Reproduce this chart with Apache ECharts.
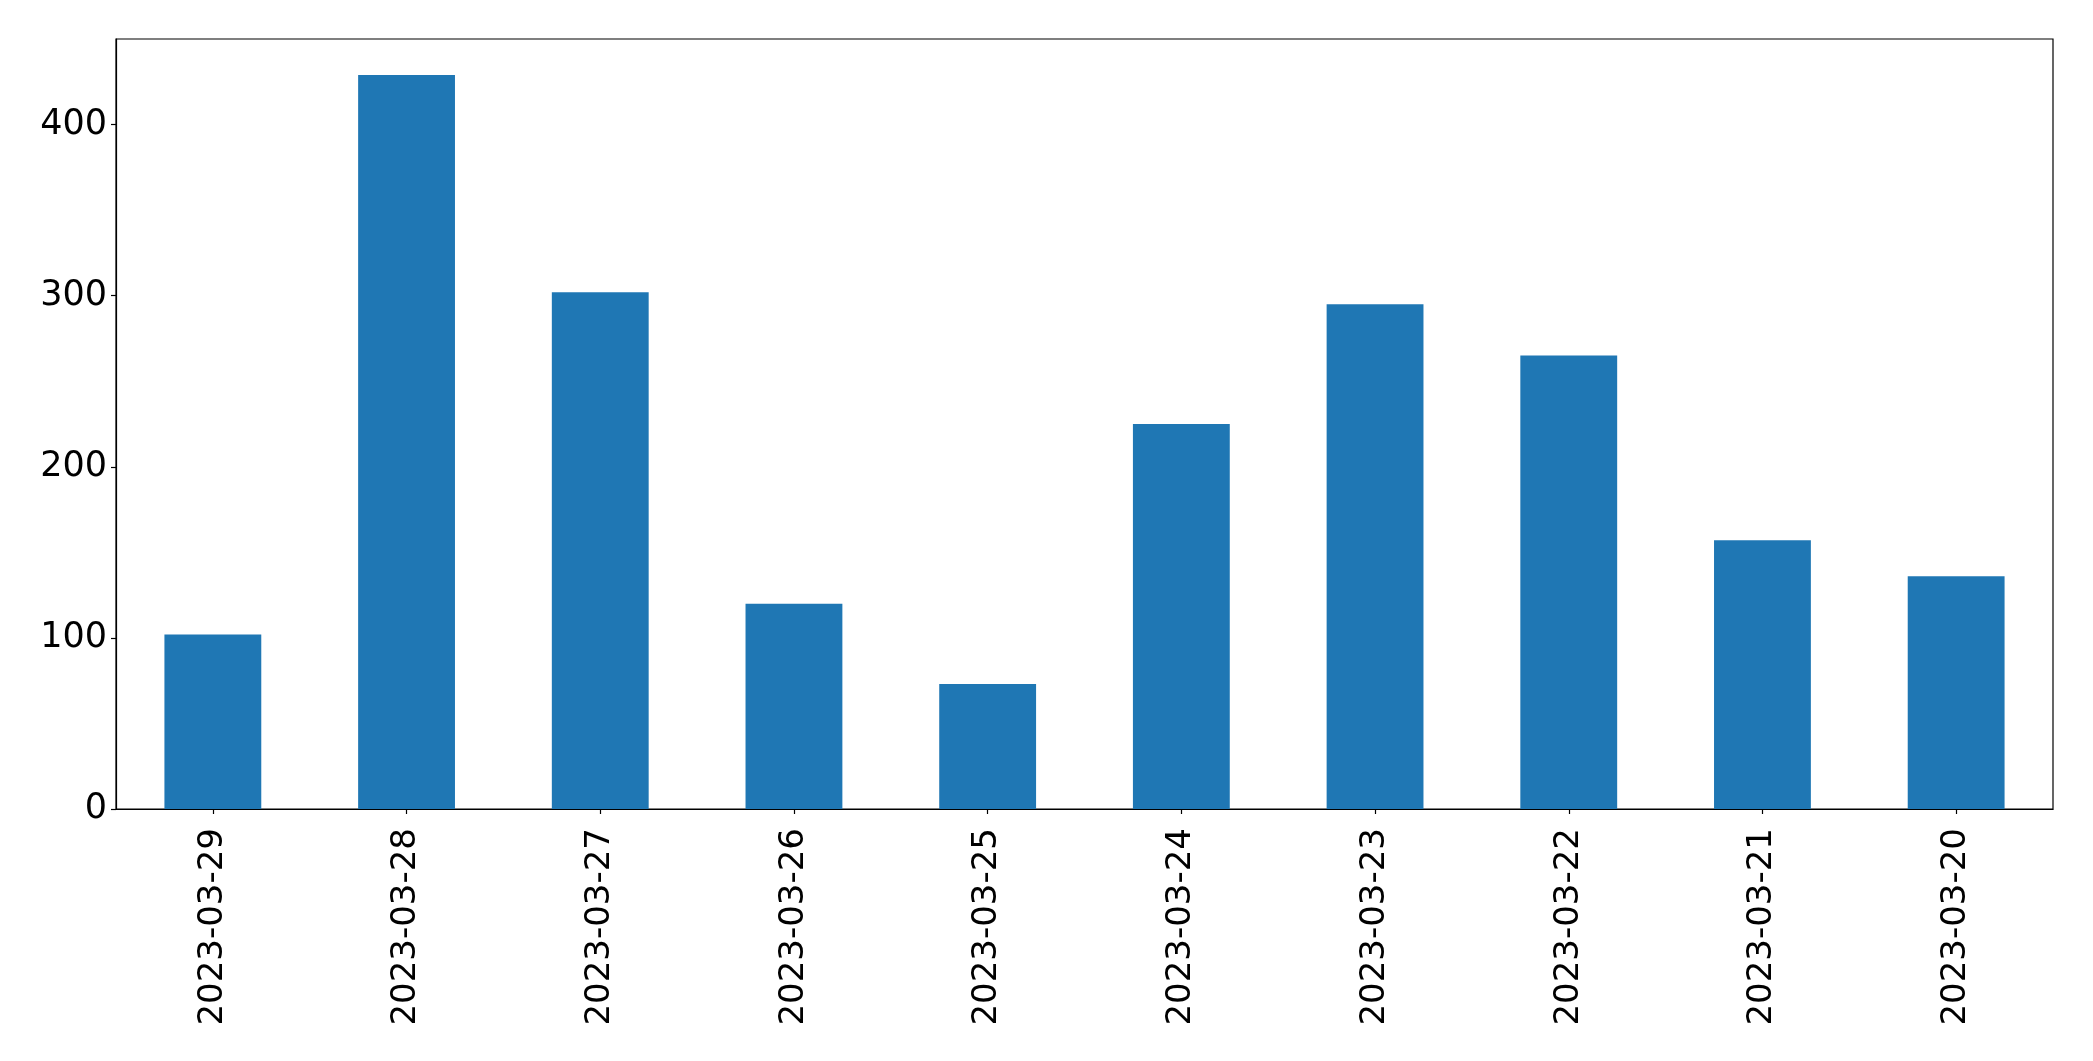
<!DOCTYPE html>
<html>
<head>
<meta charset="utf-8">
<script src="https://cdn.jsdelivr.net/npm/echarts@6/dist/echarts.min.js"></script>
<style>
html,body{margin:0;padding:0;background:#fff;}
#chart{width:2093px;height:1061px;}
</style>
</head>
<body>
<div id="chart"></div>
<script>
const categories = ['2023-03-29','2023-03-28','2023-03-27','2023-03-26','2023-03-25','2023-03-24','2023-03-23','2023-03-22','2023-03-21','2023-03-20'];
const values = [102, 429, 302, 120, 73, 225, 295, 265, 157, 136];
const yTicks = [0, 100, 200, 300, 400];

const chart = echarts.init(document.getElementById('chart'));
const font = 'DejaVu Sans';
chart.setOption({
  animation: false,
  backgroundColor: '#ffffff',
  grid: {
    left: 116, right: 40, top: 39, bottom: 252,
    show: true, borderColor: '#000', borderWidth: 1.2, backgroundColor: 'transparent'
  },
  xAxis: {
    type: 'category',
    data: categories,
    axisLine: {show: true, lineStyle: {color: '#000', width: 1.2}},
    axisTick: {show: true, alignWithLabel: true, length: 5, lineStyle: {color: '#000', width: 1.2}},
    axisLabel: {rotate: 90, margin: 19, color: '#000', fontSize: 34, fontFamily: font},
    splitLine: {show: false}
  },
  yAxis: {
    type: 'value',
    min: 0, max: 450, interval: 100,
    axisLine: {show: true, lineStyle: {color: '#000', width: 1.2}},
    axisTick: {show: true, length: 5, lineStyle: {color: '#000', width: 1.2}},
    axisLabel: {
      margin: 9, color: '#000', fontSize: 35, fontFamily: font,
      verticalAlign: 'middle',
      padding: [10, 0, 0, 0],
      showMaxLabel: false,
      formatter: function (v) { return yTicks.indexOf(v) >= 0 ? String(v) : ''; }
    },
    splitLine: {show: false}
  },
  series: [{
    type: 'bar',
    data: values,
    barWidth: '50%',
    itemStyle: {color: '#1f77b4'}
  }]
});
</script>
</body>
</html>
